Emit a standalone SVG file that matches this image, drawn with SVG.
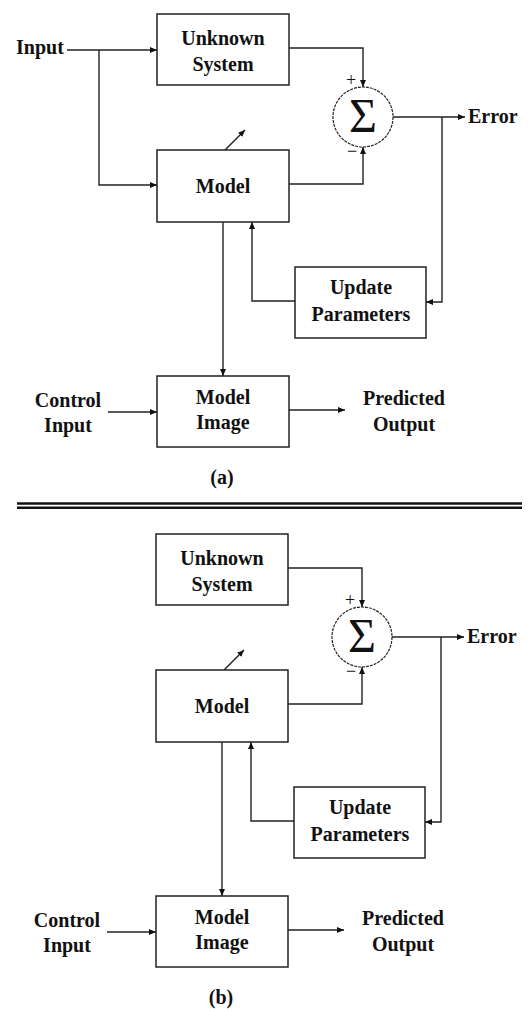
<svg xmlns="http://www.w3.org/2000/svg" width="529" height="1009" viewBox="0 0 529 1009">
<style>
.box{fill:#fff;stroke:#222;stroke-width:1.5}
.sum{fill:#fff;stroke:#222;stroke-width:1.2;stroke-dasharray:3 1}
.ln{fill:none;stroke:#222;stroke-width:1.4}
.t{font-family:"Liberation Serif","Times New Roman",serif;font-weight:bold;font-size:20px;fill:#111}
.c{text-anchor:middle}
.sig{font-family:"Liberation Serif","Times New Roman",serif;font-size:48px;fill:#111;text-anchor:middle}
.pm{font-family:"Liberation Serif","Times New Roman",serif;font-size:18px;fill:#111;text-anchor:middle}
</style>
<defs>
<marker id="ah" markerUnits="userSpaceOnUse" markerWidth="8" markerHeight="7" refX="7" refY="3" orient="auto">
<path d="M0,0 L7,3 L0,6 z" fill="#111"/>
</marker>
</defs>
<rect width="529" height="1009" fill="#fff"/>

<g id="panel-a">
<g id="connectors-a" class="ln" marker-end="url(#ah)">
<path d="M67,50 H157"/>
<path d="M99,50 V185 H157"/>
<path d="M289,48 H363 V87"/>
<path d="M289,184 H363 V147"/>
<path d="M393,117 H465"/>
<path d="M442,117 V302 H426"/>
<path d="M295,301 H252 V222"/>
<path d="M223,222 V376"/>
<path d="M108,412 H157"/>
<path d="M289,410 H345"/>
<path d="M225,150 L245,130"/>
</g>
<g id="a-unknown"><rect class="box" x="157" y="14" width="132" height="71"/>
<text class="t c" x="223" y="45">Unknown</text><text class="t c" x="223" y="71">System</text></g>
<g id="a-model"><rect class="box" x="157" y="150" width="132" height="72"/>
<text class="t c" x="223" y="193">Model</text></g>
<g id="a-update"><rect class="box" x="295" y="267" width="131" height="71"/>
<text class="t c" x="361" y="294">Update</text><text class="t c" x="361" y="321">Parameters</text></g>
<g id="a-image"><rect class="box" x="157" y="376" width="132" height="71"/>
<text class="t c" x="223" y="404">Model</text><text class="t c" x="223" y="429">Image</text></g>
<g id="a-sum"><circle class="sum" cx="363" cy="117" r="30"/>
<text class="sig" x="363" y="132">Σ</text>
<text class="pm" x="351" y="86">+</text><text class="pm" x="352" y="157">−</text></g>
<g id="a-input"><text class="t" x="16" y="54">Input</text></g>
<g id="a-control"><text class="t c" x="68" y="407">Control</text><text class="t c" x="68" y="432">Input</text></g>
<g id="a-predicted"><text class="t c" x="404" y="405">Predicted</text><text class="t c" x="404" y="431">Output</text></g>
<g id="a-error"><text class="t" x="468" y="123">Error</text></g>
<text class="t c" x="222" y="484">(a)</text>
</g>

<g id="separator" stroke="#111" stroke-width="2.5">
<line x1="17" y1="503.5" x2="522" y2="503.5"/>
<line x1="17" y1="507.8" x2="522" y2="507.8"/>
</g>

<g id="panel-b" transform="translate(-1,520)">
<g id="connectors-b" class="ln" marker-end="url(#ah)">
<path d="M289,48 H363 V87"/>
<path d="M289,184 H363 V147"/>
<path d="M393,117 H465"/>
<path d="M442,117 V302 H426"/>
<path d="M295,301 H252 V222"/>
<path d="M223,222 V376"/>
<path d="M108,412 H157"/>
<path d="M289,410 H345"/>
<path d="M225,150 L245,130"/>
</g>
<g id="b-unknown"><rect class="box" x="157" y="14" width="132" height="71"/>
<text class="t c" x="223" y="45">Unknown</text><text class="t c" x="223" y="71">System</text></g>
<g id="b-model"><rect class="box" x="157" y="150" width="132" height="72"/>
<text class="t c" x="223" y="193">Model</text></g>
<g id="b-update"><rect class="box" x="295" y="267" width="131" height="71"/>
<text class="t c" x="361" y="294">Update</text><text class="t c" x="361" y="321">Parameters</text></g>
<g id="b-image"><rect class="box" x="157" y="376" width="132" height="71"/>
<text class="t c" x="223" y="404">Model</text><text class="t c" x="223" y="429">Image</text></g>
<g id="b-sum"><circle class="sum" cx="363" cy="117" r="30"/>
<text class="sig" x="363" y="132">Σ</text>
<text class="pm" x="351" y="86">+</text><text class="pm" x="352" y="157">−</text></g>
<g id="b-control"><text class="t c" x="68" y="407">Control</text><text class="t c" x="68" y="432">Input</text></g>
<g id="b-predicted"><text class="t c" x="404" y="405">Predicted</text><text class="t c" x="404" y="431">Output</text></g>
<g id="b-error"><text class="t" x="468" y="123">Error</text></g>
<text class="t c" x="222" y="484">(b)</text>
</g>
</svg>
